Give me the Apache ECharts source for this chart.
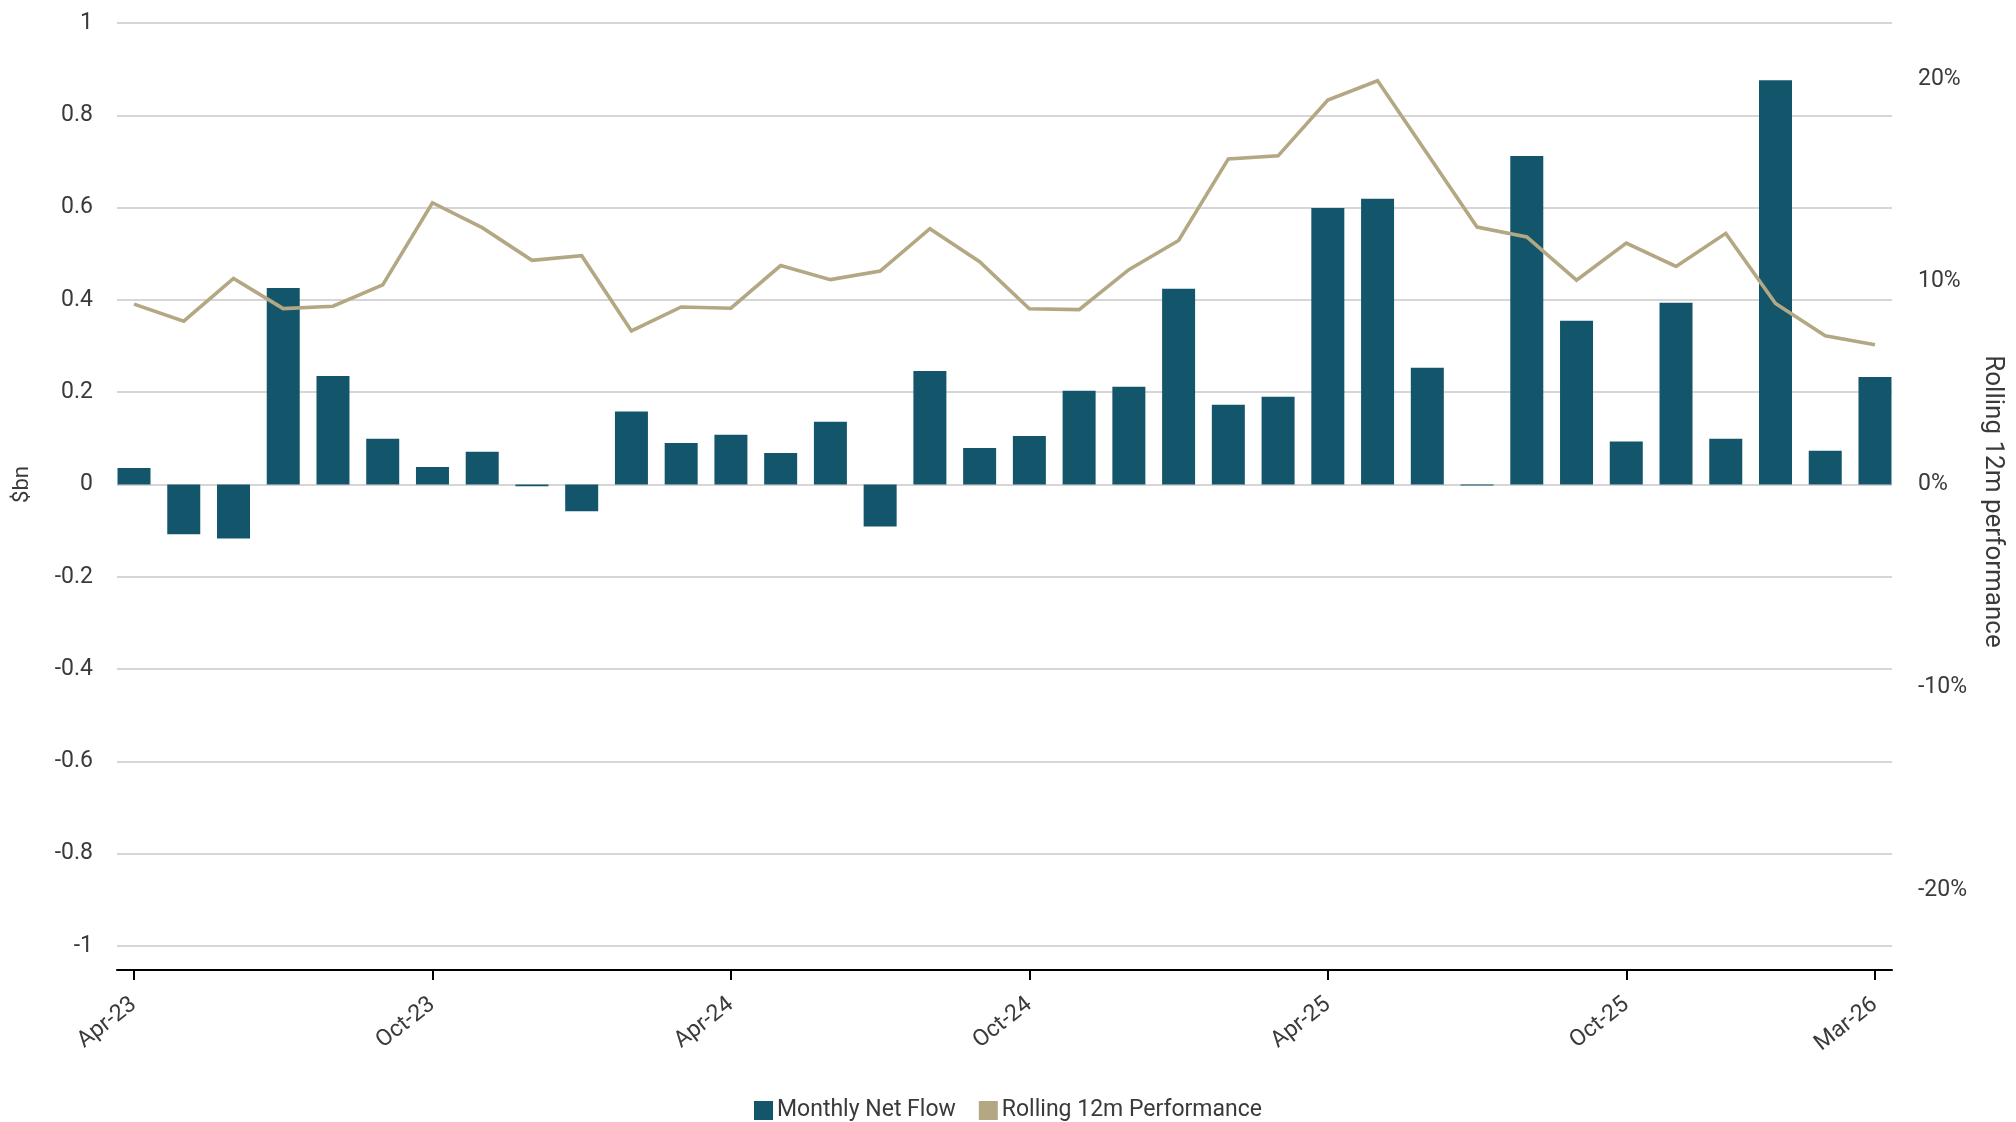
<!DOCTYPE html>
<html>
<head>
<meta charset="utf-8">
<title>Monthly Net Flow vs Rolling 12m Performance</title>
<script src="https://cdn.jsdelivr.net/npm/echarts@6/dist/echarts.min.js"></script>
<style>
  html, body { margin: 0; padding: 0; background: #ffffff; }
  #chart { width: 2016px; height: 1122px; }
</style>
</head>
<body>
<div id="chart"></div>
<script>
// Month labels, one per bar
const months = [
  'Apr-23', 'May-23', 'Jun-23', 'Jul-23', 'Aug-23', 'Sep-23',
  'Oct-23', 'Nov-23', 'Dec-23', 'Jan-24', 'Feb-24', 'Mar-24',
  'Apr-24', 'May-24', 'Jun-24', 'Jul-24', 'Aug-24', 'Sep-24',
  'Oct-24', 'Nov-24', 'Dec-24', 'Jan-25', 'Feb-25', 'Mar-25',
  'Apr-25', 'May-25', 'Jun-25', 'Jul-25', 'Aug-25', 'Sep-25',
  'Oct-25', 'Nov-25', 'Dec-25', 'Jan-26', 'Feb-26', 'Mar-26'
];

// Monthly net flow, $bn
const netFlow = [
  0.036, -0.108, -0.117, 0.426, 0.235, 0.099,
  0.038, 0.071, -0.004, -0.058, 0.158, 0.090,
  0.108, 0.068, 0.136, -0.091, 0.246, 0.079,
  0.105, 0.203, 0.212, 0.424, 0.173, 0.190,
  0.599, 0.619, 0.253, -0.002, 0.712, 0.355,
  0.093, 0.394, 0.099, 0.876, 0.073, 0.233
];

// Rolling 12-month performance, %
const rollingPerf = [
  8.89, 8.05, 10.16, 8.67, 8.79, 9.84,
  13.89, 12.66, 11.05, 11.28, 7.57, 8.75,
  8.69, 10.79, 10.10, 10.52, 12.61, 10.98,
  8.66, 8.62, 10.59, 12.03, 16.05, 16.20,
  18.95, 19.90, 16.30, 12.69, 12.20, 10.07,
  11.90, 10.75, 12.38, 8.92, 7.33, 6.89
];

// Months that carry a date label on the x axis
const labelledMonths = ['Apr-23', 'Oct-23', 'Apr-24', 'Oct-24', 'Apr-25', 'Oct-25', 'Mar-26'];

// Right-axis tick labels, %
const perfTicks = [-20, -10, 0, 10, 20];

const FONT = 'Roboto, "Noto Sans", sans-serif';
const TEXT = '#3a3a3a';
const BAR = '#13566b';
const LINE = '#b3a883';

const labelIdx = labelledMonths.map(m => months.indexOf(m));
const flowData = netFlow.map((v, i) => [i, v]);
const perfData = rollingPerf.map((v, i) => [i, v]);

const chart = echarts.init(document.getElementById('chart'), null, { renderer: 'canvas' });

chart.setOption({
  animation: false,
  backgroundColor: '#ffffff',
  textStyle: { fontFamily: FONT },
  grid: { left: 117, right: 124, top: 23, bottom: 176, containLabel: false },
  legend: {
    top: 1094,
    left: 'center',
    icon: 'rect',
    itemWidth: 19,
    itemHeight: 19,
    itemGap: 23,
    textStyle: { fontFamily: FONT, fontSize: 23, color: TEXT, padding: [0, 0, 0, -1] },
    data: ['Monthly Net Flow', 'Rolling 12m Performance']
  },
  xAxis: {
    type: 'value',
    min: -0.342,
    max: 35.342,
    position: 'bottom',
    offset: 24,
    axisLine: { onZero: false, lineStyle: { color: '#000000', width: 2 } },
    axisTick: {
      show: true, length: 10, inside: false,
      customValues: labelIdx,
      lineStyle: { color: '#000000', width: 2 }
    },
    axisLabel: {
      customValues: labelIdx,
      rotate: 38,
      margin: 32,
      fontFamily: FONT,
      fontSize: 23,
      color: TEXT,
      formatter: v => months[Math.round(v)] || ''
    },
    splitLine: { show: false }
  },
  yAxis: [
    {
      type: 'value',
      min: -1,
      max: 1,
      interval: 0.2,
      name: '$bn',
      nameLocation: 'middle',
      nameGap: 84,
      nameTextStyle: { fontFamily: FONT, fontSize: 22, color: TEXT },
      axisLine: { show: false },
      axisTick: { show: false },
      axisLabel: { margin: 24, fontFamily: FONT, fontSize: 23, color: TEXT },
      splitLine: { show: true, lineStyle: { color: '#c8c8c8', width: 1.5 } }
    },
    {
      type: 'value',
      min: -22.75,
      max: 22.75,
      position: 'right',
      name: 'Rolling 12m performance',
      nameLocation: 'middle',
      nameRotate: -90,
      nameGap: 87,
      nameTextStyle: { fontFamily: FONT, fontSize: 26, color: TEXT, padding: [0, 0, 0, 34] },
      axisLine: { show: false },
      axisTick: { show: false, customValues: perfTicks },
      axisLabel: {
        customValues: perfTicks,
        margin: 26,
        fontFamily: FONT,
        fontSize: 23,
        color: TEXT,
        formatter: v => Math.round(v) + '%'
      },
      splitLine: { show: false }
    }
  ],
  series: [
    {
      name: 'Monthly Net Flow',
      type: 'bar',
      xAxisIndex: 0,
      yAxisIndex: 0,
      barWidth: 33,
      itemStyle: { color: BAR },
      data: flowData,
      z: 2
    },
    {
      name: 'Rolling 12m Performance',
      type: 'line',
      xAxisIndex: 0,
      yAxisIndex: 1,
      symbol: 'none',
      showSymbol: false,
      lineStyle: { color: LINE, width: 3.6, join: 'miter' },
      itemStyle: { color: LINE },
      data: perfData,
      z: 3
    }
  ]
});
</script>
</body>
</html>
